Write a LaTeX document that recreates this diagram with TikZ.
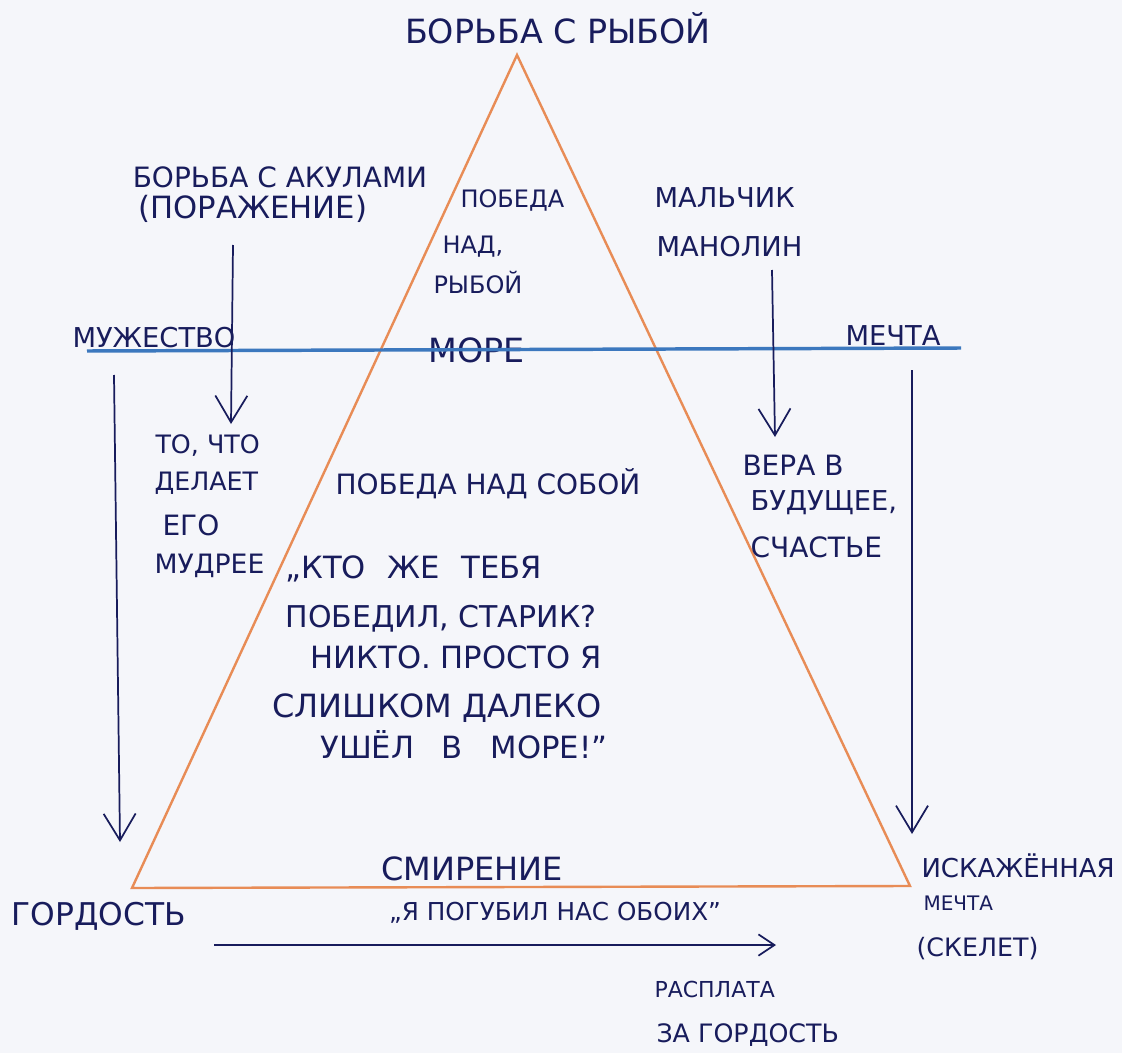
\documentclass[tikz,border=0pt]{standalone}
\usepackage{fontspec}
\setmainfont{DejaVu Sans}
\usetikzlibrary{arrows.meta}

\definecolor{ink}{RGB}{24,28,92}
\definecolor{tri}{RGB}{232,140,86}
\definecolor{sea}{RGB}{60,120,190}
\definecolor{paper}{RGB}{245,246,250}
\newcommand{\fs}[1]{\fontsize{#1}{#1}\selectfont}

\tikzset{every picture/.style={line width=0.75pt}}

\begin{document}
\begin{tikzpicture}[x=0.75pt,y=0.75pt,yscale=-1,xscale=1,
  txt/.style={text=ink,inner sep=0pt,anchor=base west},
  ctxt/.style={text=ink,inner sep=0pt,anchor=base},
  pen/.style={draw=ink,line width=1.3pt,-{Straight Barb[length=20pt,width=24pt]}},
  pensmall/.style={draw=ink,line width=1.3pt,-{Straight Barb[length=12pt,width=16pt]}}]
%set diagram to the size of the sheet
\fill[paper] (0,0) rectangle (1122,1053);
\useasboundingbox (0,0) rectangle (1122,1053);

%Shape: Triangle
\coordinate (apex) at (517,55);
\coordinate (bl) at (132,888);
\coordinate (br) at (910,886);
\draw[tri,line width=1.8pt] (apex) -- (br) -- (bl) -- cycle;

% Text Node
\node[ctxt,font=\fs{25}] (title) at (558,43) {БОРЬБА С РЫБОЙ};
% Text Node
\node[ctxt,font=\fs{21}] (akul) at (280,187) {БОРЬБА С АКУЛАМИ};
\node[ctxt,font=\fs{23}] (porazh) at (253,218) {(ПОРАЖЕНИЕ)};
% Text Node
\node[txt,font=\fs{18}] (pobeda) at (460,207) {ПОБЕДА};
\node[txt,font=\fs{18}] (nad) at (442,253) {НАД,};
\node[txt,font=\fs{18}] (ryboj) at (433,293) {РЫБОЙ};
% Text Node
\node[txt,font=\fs{25}] (more) at (428,362) {МОРЕ};
\node[txt,font=\fs{20.5}] (muzh) at (72,347) {МУЖЕСТВО};
\node[txt,font=\fs{20.5}] (mechta) at (845,345) {МЕЧТА};
% Text Node
\node[txt,font=\fs{20.5}] (malch) at (654,207) {МАЛЬЧИК};
\node[txt,font=\fs{20.5}] (manolin) at (656,256) {МАНОЛИН};
% Text Node
\node[txt,font=\fs{19}] (chto) at (155,453) {ТО, ЧТО};
\node[txt,font=\fs{19}] (delaet) at (154,490) {ДЕЛАЕТ};
\node[txt,font=\fs{21}] (ego) at (162,535) {ЕГО};
\node[txt,font=\fs{20}] (mudree) at (154,573) {МУДРЕЕ};
% Text Node
\node[ctxt,font=\fs{21}] (sebja) at (488,494) {ПОБЕДА НАД СОБОЙ};
% Text Node
\node[txt,font=\fs{21}] (vera) at (742,475) {ВЕРА В};
\node[txt,font=\fs{20.5}] (budush) at (750,510) {БУДУЩЕЕ,};
\node[txt,font=\fs{21}] (schast) at (750,557) {СЧАСТЬЕ};
% Text Node
\node[txt,font=\fs{23}] (q1) at (285,578) {„КТО\hspace{.7em}ЖЕ\hspace{.7em}ТЕБЯ};
\node[txt,font=\fs{22.5}] (q2) at (285,627) {ПОБЕДИЛ, СТАРИК?};
\node[txt,font=\fs{23}] (q3) at (310,668) {НИКТО. ПРОСТО Я};
\node[txt,font=\fs{24}] (q4) at (272,717) {СЛИШКОМ ДАЛЕКО};
\node[txt,font=\fs{23}] (q5) at (320,758) {УШЁЛ\hspace{.9em}В\hspace{.9em}МОРЕ!"};
% Text Node
\node[ctxt,font=\fs{24}] (smir) at (472,880) {СМИРЕНИЕ};
\node[txt,font=\fs{23.5}] (gord) at (11,925) {ГОРДОСТЬ};
\node[ctxt,font=\fs{18.5}] (pogub) at (555,920) {„Я ПОГУБИЛ НАС ОБОИХ"};
% Text Node
\node[txt,font=\fs{19.5}] (iskazh) at (921,877) {ИСКАЖЁННАЯ};
\node[txt,font=\fs{15}] (mechta2) at (923,910) {МЕЧТА};
\node[txt,font=\fs{19}] (skelet) at (916,956) {(СКЕЛЕТ)};
% Text Node
\node[txt,font=\fs{16.5}] (rasplata) at (654,997) {РАСПЛАТА};
\node[txt,font=\fs{19}] (zagord) at (656,1042) {ЗА ГОРДОСТЬ};

%Straight Lines: sea level
\coordinate (seaL) at (87,351);
\coordinate (seaR) at (961,348);
\draw[sea,line width=2.6pt] (seaL) -- (seaR);

%Arrows
\coordinate (muzhS) at (114,375);
\coordinate (gordE) at (120,842);
\draw[pen] (muzhS) -- (gordE);
\coordinate (porazhS) at (233,245);
\coordinate (chtoE) at (231,424);
\draw[pen] (porazhS) -- (chtoE);
\coordinate (manolinS) at (772,270);
\coordinate (veraE) at (775,437);
\draw[pen] (manolinS) -- (veraE);
\coordinate (mechtaS) at (912,370);
\coordinate (iskazhE) at (912,834);
\draw[pen] (mechtaS) -- (iskazhE);
\coordinate (pogubS) at (214,945);
\coordinate (pogubE) at (776,945);
\draw[pensmall] (pogubS) -- (pogubE);

\end{tikzpicture}
\end{document}
